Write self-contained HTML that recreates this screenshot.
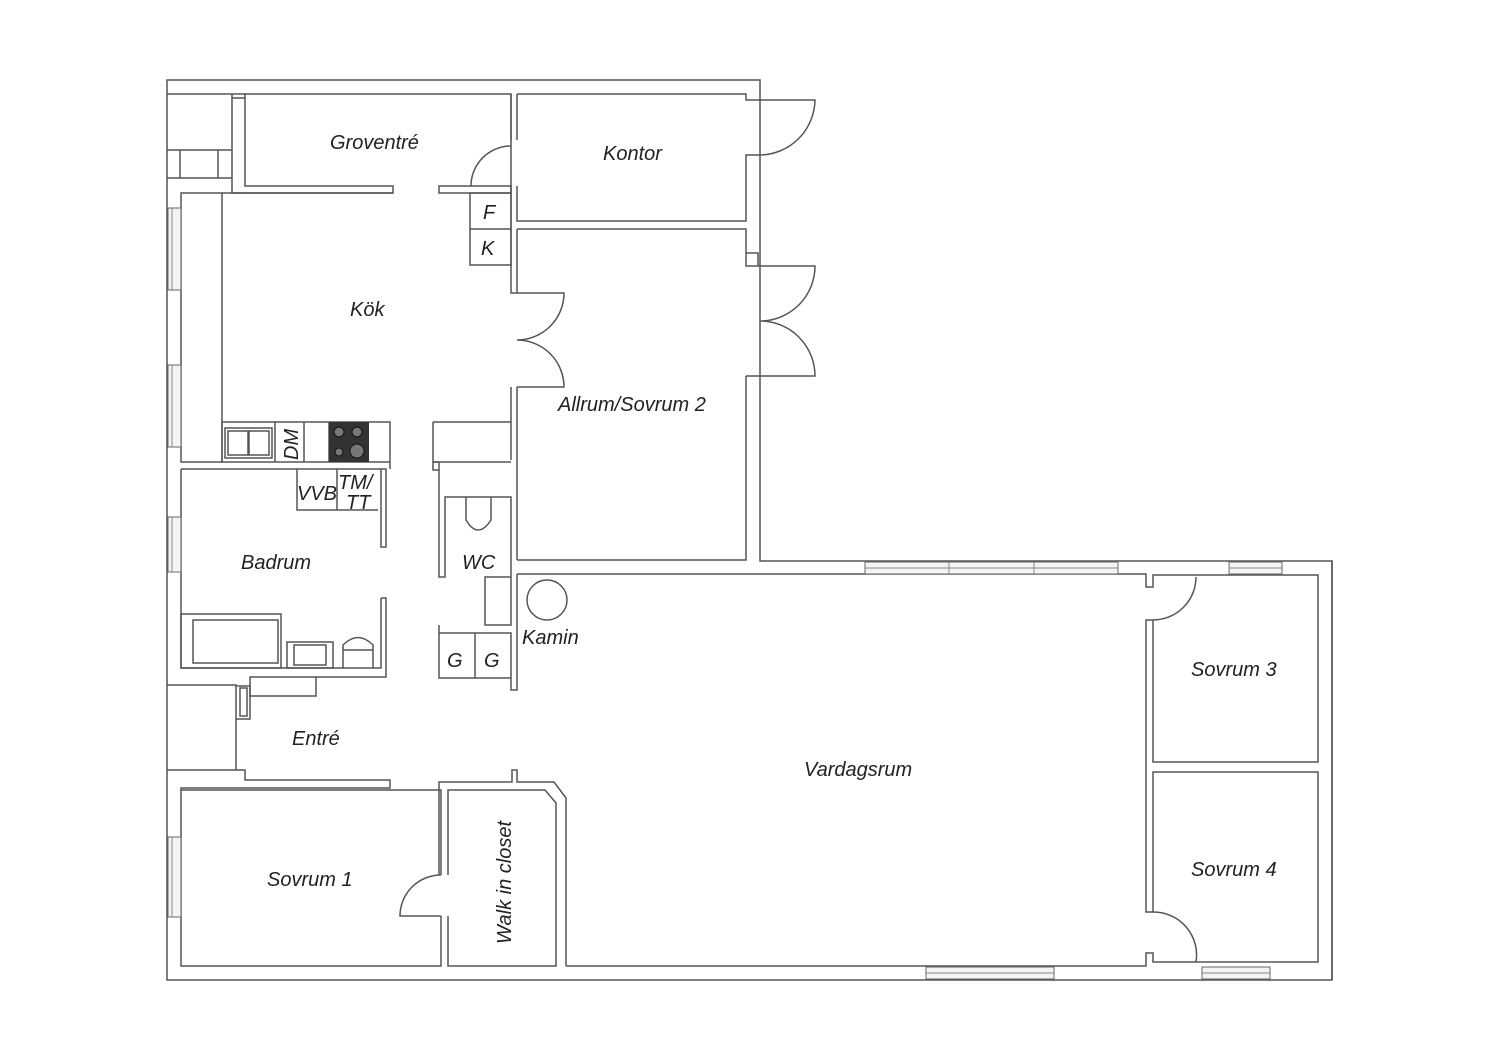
<!DOCTYPE html>
<html><head><meta charset="utf-8"><style>
html,body{margin:0;padding:0;background:#fff;width:1500px;height:1060px;overflow:hidden}
svg{display:block}
text{font-family:"Liberation Sans",sans-serif;font-style:italic;font-size:20px;fill:#222}
</style></head><body>
<svg width="1500" height="1060" viewBox="0 0 1500 1060" xmlns="http://www.w3.org/2000/svg">
<g fill="none" stroke="#555" stroke-width="1.5">
<!-- outer -->
<path d="M167,80 H760 V561 H1332 V980 H167 Z"/>
<!-- top-left block -->
<path d="M167,94 H232 V150 H167 M180,150 V178 M218,150 V178 M167,178 H232 V150 M232,94 H245"/>
<!-- Groventre -->
<path d="M232,98 H245 V94 H511 V186 M245,98 V186 H393 V193 H232 V178"/>
<path d="M439,186 H511 V193 H439 Z"/>
<!-- Kontor -->
<path d="M517,94 H746 V100 H760 M517,94 V140 M517,186 V221 H746 V155 H760 M511,94 V140 M511,186 V193"/>
<!-- kitchen -->
<path d="M181,193 H222 V462 H181 Z"/>
<path d="M222,193 H393"/>
<path d="M470,193 H511 V265 H470 Z M470,229 H511"/>
<path d="M511,193 V293 H517 M511,387 V460 M517,229 V293 M517,387 V560"/>
<path d="M222,422 H390 V469 M222,422 V462 H390 M275,422 V462 M304,422 V462 M329,422 V462"/>
<rect x="225" y="428" width="47" height="30"/><rect x="228" y="431" width="20" height="24"/><rect x="249" y="431" width="20" height="24"/>
<path d="M433,422 H511 M433,422 V470 H439 M433,462 H511"/>
<!-- Allrum -->
<path d="M517,229 H746 V266 H760 M746,376 V560 H517 M746,266 V253 H758 V266 M746,376 H760"/>
<!-- Badrum -->
<path d="M181,469 H386 V547 H381 V469 M381,598 H386 V677 H250 V696 H316 V677 M181,469 V668 H381 V598"/>
<path d="M297,469 V510 H378 M337,469 V510"/>
<rect x="181" y="614" width="100" height="54"/><rect x="193" y="620" width="85" height="43"/>
<rect x="287" y="642" width="46" height="26"/><rect x="294" y="645" width="32" height="20"/>
<path d="M343,668 V645 Q358,630 373,645 V668 M343,650 H373"/>
<!-- Entre / left -->
<path d="M167,685 H236 V770 H167 M236,685 V686 H250 V719 H236 M236,770 H245 V780 H390 V788 H181 V966 H441 V916 M441,875 V790 H181"/>
<rect x="240" y="688" width="7" height="28"/>
<!-- walk-in -->
<path d="M448,875 V790 H545 L556,803 V966 H448 V916 M439,875 V782 H512 V770 H517 V782 H554 L566,798 V966"/>
<!-- WC -->
<path d="M439,462 V577 H445 V497 H511 V577 M439,462 H433 M485,577 H511 V625 H485 Z"/>
<path d="M466,497 V520 Q478,540 491,520 V497"/>
<path d="M439,625 V633 H511 V678 H439 Z M475,633 V678 M511,678 V690 H517 V574"/>
<!-- Vardagsrum -->
<path d="M517,574 H1146 V587 H1153 V575 H1318 V762 H1153 V620 H1146 V912 H1153 V772 H1318 V962 H1153 V953 H1146 V966 H566"/>
<path d="M1332,561 V980"/>
<circle cx="547" cy="600" r="20"/>
<!-- doors arcs -->
<path d="M471,186 A40,40 0 0 1 511,146"/>
<path d="M760,155 A56,56 0 0 0 815,100 H760"/>
<path d="M760,321 A55,55 0 0 0 815,266 H760 M760,321 A55,55 0 0 1 815,376 H760"/>
<path d="M517,340 A47,47 0 0 0 564,293 H517 M517,340 A47,47 0 0 1 564,387 H517"/>
<path d="M1153,620 A43,43 0 0 0 1196,577"/>
<path d="M1153,912 A43,43 0 0 1 1196,962"/>
<path d="M441,875 A41,41 0 0 0 400,916 H441"/>
</g>
<!-- stove -->
<rect x="329" y="422" width="40" height="40" fill="#333"/>
<g fill="#777" stroke="#111"><circle cx="339" cy="432" r="5"/><circle cx="357" cy="432" r="5"/><circle cx="339" cy="452" r="4"/><circle cx="357" cy="451" r="7"/></g>
<!-- windows -->
<g fill="#f4f4f4" stroke="#666" stroke-width="1">
<rect x="168" y="208" width="13" height="82"/><rect x="168" y="365" width="13" height="82"/>
<rect x="168" y="517" width="13" height="55"/><rect x="168" y="837" width="13" height="80"/>
<rect x="865" y="562" width="253" height="12"/><rect x="1229" y="562" width="53" height="12"/>
<rect x="926" y="967" width="128" height="12"/><rect x="1202" y="967" width="68" height="12"/>
</g>
<g stroke="#888" stroke-width="1"><path d="M949,562 V574 M1034,562 V574 M172,208 V290 M172,365 V447 M172,517 V572 M172,837 V917 M865,568 H1118 M1229,568 H1282 M926,973 H1054 M1202,973 H1270"/></g>
<!-- labels -->
<text x="330" y="149">Groventré</text>
<text x="603" y="160">Kontor</text>
<text x="483" y="219" font-size="19">F</text>
<text x="481" y="255" font-size="19">K</text>
<text x="350" y="316">Kök</text>
<text x="558" y="411">Allrum/Sovrum 2</text>
<text x="297" y="500" font-size="19">VVB</text>
<text x="338" y="489" font-size="17">TM/</text>
<text x="346" y="509" font-size="17">TT</text>
<text transform="translate(298,460) rotate(-90)" font-size="19">DM</text>
<text x="241" y="569">Badrum</text>
<text x="462" y="569">WC</text>
<text x="522" y="644">Kamin</text>
<text x="447" y="667" font-size="19">G</text>
<text x="484" y="667" font-size="19">G</text>
<text x="292" y="745">Entré</text>
<text x="804" y="776">Vardagsrum</text>
<text x="1191" y="676">Sovrum 3</text>
<text x="1191" y="876">Sovrum 4</text>
<text x="267" y="886">Sovrum 1</text>
<text transform="translate(511,944) rotate(-90)">Walk in closet</text>
</svg>
</body></html>
